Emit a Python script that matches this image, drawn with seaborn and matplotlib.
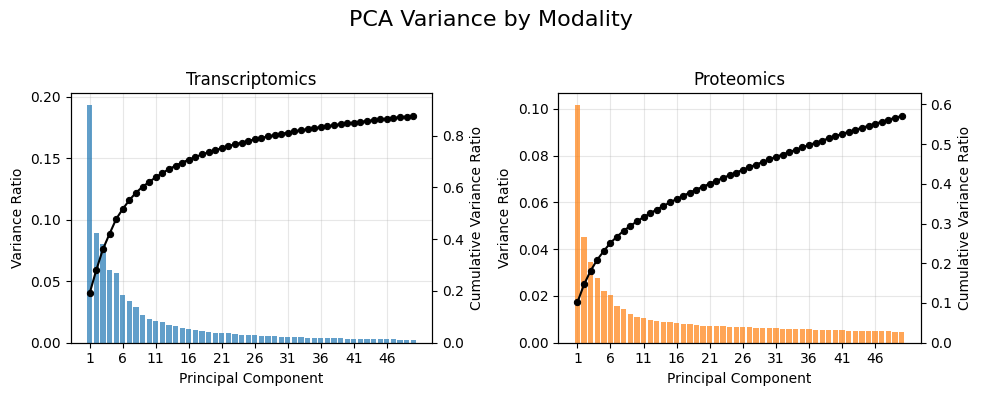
import numpy as np
import pandas as pd
import matplotlib
matplotlib.use("Agg")
import matplotlib.pyplot as plt
import seaborn as sns

# ---------------------------------------------------------------------------
# Data (explained variance ratio per component)
# ---------------------------------------------------------------------------
components = list(range(1, 51))

transcriptomics_var = [
    0.193, 0.089, 0.080, 0.059, 0.057, 0.039, 0.034, 0.029, 0.0225, 0.019,
    0.0178, 0.0168, 0.0145, 0.0136, 0.0120, 0.0112, 0.0104, 0.0096, 0.0088, 0.0080,
    0.0079, 0.0078, 0.0071, 0.0064, 0.0063, 0.0062, 0.0056, 0.0055, 0.0054, 0.0048,
    0.0047, 0.0047, 0.0046, 0.0040, 0.0039, 0.0039, 0.0038, 0.0038, 0.0037, 0.0032,
    0.0032, 0.0031, 0.0031, 0.0031, 0.0030, 0.0030, 0.0030, 0.0025, 0.0024, 0.0024,
]

proteomics_var = [
    0.1016, 0.0450, 0.0346, 0.0278, 0.0220, 0.0205, 0.0158, 0.0145, 0.0124, 0.0111,
    0.0107, 0.0098, 0.0094, 0.0090, 0.0090, 0.0085, 0.0081, 0.0081, 0.0077, 0.0073,
    0.0073, 0.0073, 0.0073, 0.0068, 0.0068, 0.0068, 0.0068, 0.0064, 0.0064, 0.0064,
    0.0064, 0.0060, 0.0060, 0.0060, 0.0060, 0.0060, 0.0056, 0.0056, 0.0056, 0.0056,
    0.0056, 0.0051, 0.0051, 0.0051, 0.0051, 0.0051, 0.0051, 0.0051, 0.0047, 0.0047,
]

modalities = ["Transcriptomics", "Proteomics"]
bar_colors = ["#1f77b4", "#ff7f0e"]
tick_positions = list(range(1, 51, 5))

W, H = 981, 396
fig = plt.figure(figsize=(W / 100, H / 100), dpi=100)
fig.suptitle("PCA Variance by Modality", fontsize=16, y=0.975)

# axes boxes in pixels: (left, right), top=93.3, bottom=342.7
boxes = [(70.7, 432.3), (558.3, 920.7)]
top_px, bot_px = 93.3, 342.7


def _draw(ax, name, values, color):
    df = pd.DataFrame({"pc": components, "var": values})
    df["cum"] = np.cumsum(df["var"])

    sns.barplot(data=df, x="pc", y="var", native_scale=True, color=color,
                saturation=1, alpha=0.7, width=0.8, ax=ax)
    ax.set_xlabel("Principal Component")
    ax.set_ylabel("Variance Ratio")
    ax.set_title(name, fontsize=12)
    ax.set_xticks(tick_positions)
    ax.set_xticklabels([str(t) for t in tick_positions])
    ax.grid(True, alpha=0.3)
    ax.set_axisbelow(True)

    ax2 = ax.twinx()
    sns.lineplot(data=df, x="pc", y="cum", color="black", marker="o",
                 markersize=4.5, markeredgecolor="black", linewidth=1.5, ax=ax2)
    ax2.set_ylim(0, df["cum"].max() * 1.1)
    ax2.set_ylabel("Cumulative Variance Ratio")
    ax2.set_xlabel("Principal Component")


for (l, r), name, vals, col in zip(boxes, modalities,
                                    [transcriptomics_var, proteomics_var],
                                    bar_colors):
    ax = fig.add_axes([l / W, 1 - bot_px / H, (r - l) / W, (bot_px - top_px) / H])
    _draw(ax, name, vals, col)

fig.savefig("out.png", dpi=100)
